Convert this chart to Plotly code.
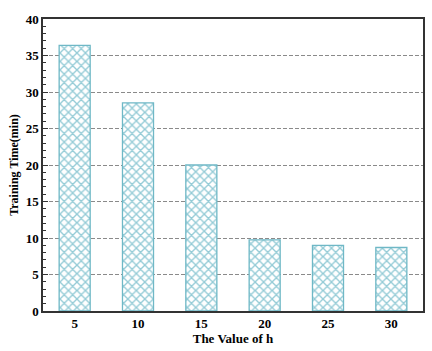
"""Training time vs h bar chart."""

import plotly.graph_objects as go

H_VALUES = ['5', '10', '15', '20', '25', '30']
TRAIN_TIME = [36.4, 28.5, 20.0, 9.75, 9.0, 8.7]
Y_TICKS = [0, 5, 10, 15, 20, 25, 30, 35, 40]

TEAL = '#2a98ae'
EDGE = '#6fb8c6'
FONT = 'Liberation Serif'

fig = go.Figure()

fig.add_trace(
    go.Bar(
        x=H_VALUES,
        y=TRAIN_TIME,
        width=0.49,
        marker=dict(
            color='white',
            line=dict(color=EDGE, width=1.3),
            pattern=dict(shape='x', fgcolor=TEAL, bgcolor='white',
                         size=6, solidity=0.4),
        ),
        showlegend=False,
    )
)

fig.update_layout(
    width=432,
    height=351,
    plot_bgcolor='white',
    paper_bgcolor='white',
    margin=dict(l=43, r=9, t=19, b=40),
    font=dict(family=FONT, color='black', size=13),
    xaxis=dict(
        type='category',
        automargin=False,
        showline=True, linecolor='#333', linewidth=1.5, mirror=True,
        ticks='', showgrid=False,
        tickfont=dict(family=FONT, size=13, weight='bold'),
        title=dict(text='<b>The Value of h</b>', standoff=4,
                   font=dict(family=FONT, size=13)),
    ),
    yaxis=dict(
        range=[0, 40],
        automargin=False,
        tickvals=Y_TICKS,
        showline=True, linecolor='#333', linewidth=1.5, mirror=True,
        ticks='inside', ticklen=5, tickcolor='#333',
        minor=dict(dtick=1, ticks='inside', ticklen=3, tickcolor='#333',
                   showgrid=False),
        showgrid=True, gridcolor='#8a8a8a', griddash='4px,2px', gridwidth=1,
        zeroline=False,
        tickfont=dict(family=FONT, size=13, weight='bold'),
        title=dict(text='<b>Training Time(min)</b>', standoff=4,
                   font=dict(family=FONT, size=12)),
    ),
)

# page body has a default 8px margin; drop it so the figure sits at 0,0
fig.write_html('out.html', config={'displayModeBar': False},
               post_script="document.body.style.margin='0';")
